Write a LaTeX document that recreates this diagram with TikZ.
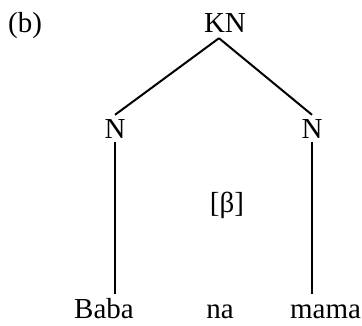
\documentclass[tikz,border=0pt]{standalone}
\usepackage{fontspec}
\setmainfont{Liberation Serif}
\begin{document}
\begin{tikzpicture}[x=1pt,y=-1pt,
  lbl/.style={anchor=base,inner sep=4pt,font=\fontsize{29}{31}\selectfont},
  word/.style={lbl,text height=20pt},
  branch/.style={line width=2pt}]
\useasboundingbox[fill=white] (0,0) rectangle (362,325);
% labels
\node[lbl] (tag) at (25,32) {(b)};
\node[lbl,inner sep=6pt] (KN) at (225,32) {KN};
\node[lbl] (N1) at (115,138) {N};
\node[lbl] (N2) at (312,138) {N};
\node[lbl] (beta) at (227,212) {[β]};
\node[word] (Baba) at (104,318) {Baba};
\node[word] (na) at (220,318) {na};
\node[word] (mama) at (325.5,318) {mama};
% branches
\draw[branch] ([xshift=-6pt]KN.south) -- (N1.north);
\draw[branch] ([xshift=-6pt]KN.south) -- (N2.north);
\draw[branch] (N1.south) -- (N1.south |- Baba.north);
\draw[branch] (N2.south) -- (N2.south |- mama.north);
\end{tikzpicture}
\end{document}
